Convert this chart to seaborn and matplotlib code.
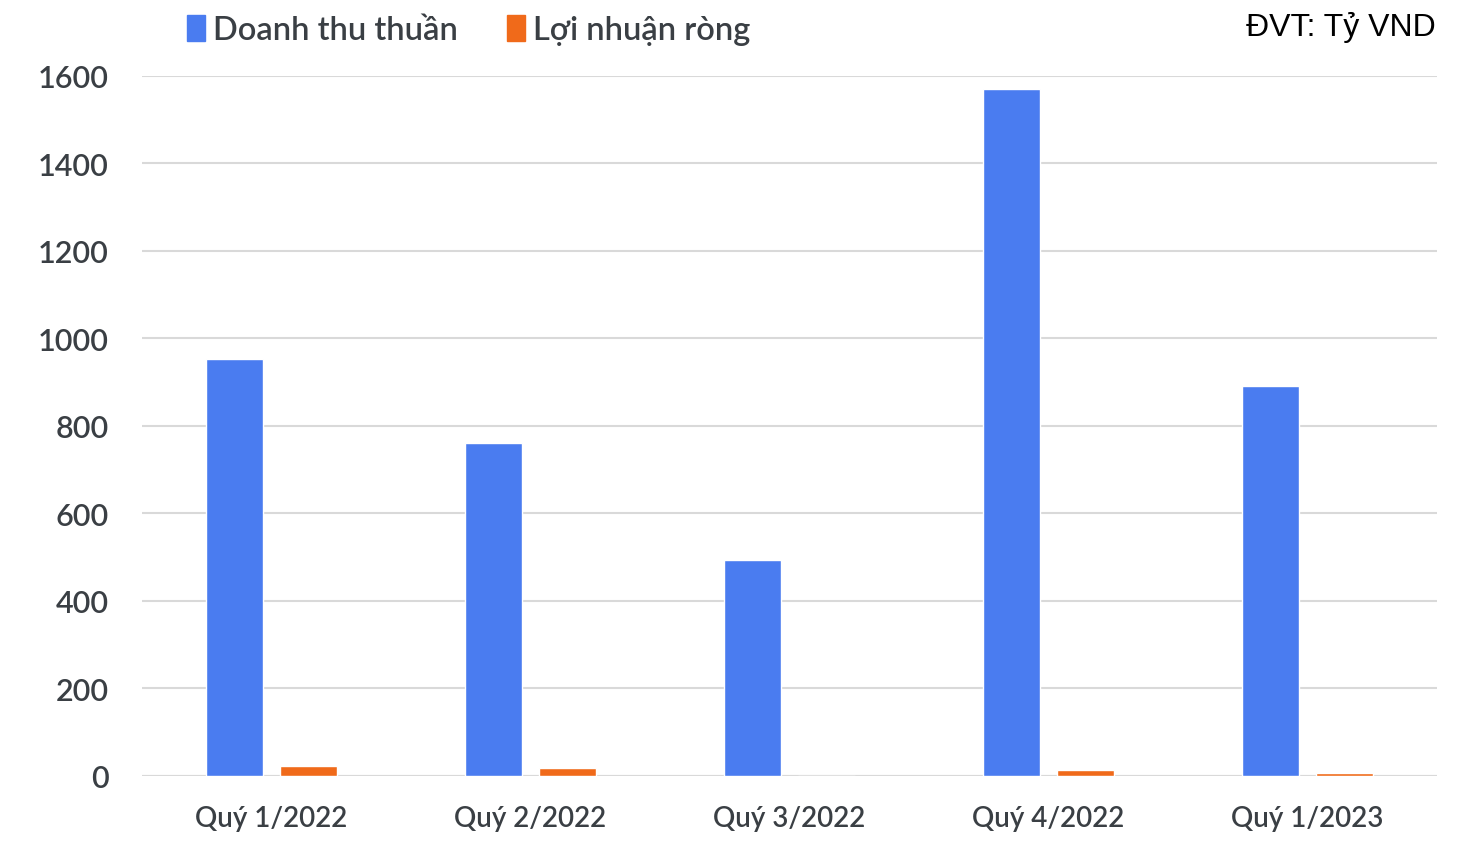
import matplotlib
matplotlib.use("Agg")
import matplotlib.pyplot as plt
import seaborn as sns
import pandas as pd
from matplotlib.patches import Patch

categories = ["Quý 1/2022", "Quý 2/2022", "Quý 3/2022", "Quý 4/2022", "Quý 1/2023"]
doanh_thu = [953, 761, 494, 1570, 891]
loi_nhuan = [23, 18, 0, 14, 7]
series = ["Doanh thu thuần", "Lợi nhuận ròng"]
yticks = [0, 200, 400, 600, 800, 1000, 1200, 1400, 1600]

df = pd.DataFrame({
    "cat": categories * 2,
    "val": doanh_thu + loi_nhuan,
    "series": [series[0]] * len(categories) + [series[1]] * len(categories),
})

sns.set_theme(style="white")
plt.rcParams['font.family'] = ['Lato', 'DejaVu Sans']

colors = {series[0]: "#4a7cf0", series[1]: "#f06a1a"}
text_color = "#3a3f44"

fig = plt.figure(figsize=(14.76, 8.45), dpi=100)
ax = fig.add_axes([0.0962, 0.0805, 0.8774, 0.8284])
sns.barplot(data=df, x="cat", y="val", hue="series", palette=colors,
            width=0.572, gap=0.23, saturation=1, ax=ax, legend=False)

ax.set_xlim(-0.5, 4.5)
ax.set_ylim(0, 1600)
ax.set_yticks(yticks)
ax.set_yticklabels([str(t) for t in yticks])
ax.yaxis.grid(True, color="#d9d9d9", linewidth=1.5)
ax.set_axisbelow(True)
for s in ax.spines.values():
    s.set_visible(False)
ax.axhline(0, color="#d9d9d9", linewidth=1.5, zorder=0)
ax.set_xlabel("")
ax.set_ylabel("")
ax.tick_params(axis="y", labelsize=22, colors=text_color, length=0, pad=24)
ax.tick_params(axis="x", labelsize=20, colors=text_color, length=0, pad=21)
for lab in ax.get_xticklabels() + ax.get_yticklabels():
    lab.set_fontweight("semibold")

handles = [Patch(facecolor=colors[s], edgecolor=colors[s]) for s in series]
leg = fig.legend(handles, series, loc="center left", bbox_to_anchor=(0.107, 0.963),
                 ncol=2, frameon=False, fontsize=23.5, handlelength=0.55, handleheight=0.85,
                 handletextpad=0.25, columnspacing=1.5, labelcolor=text_color)
for t in leg.get_texts():
    t.set_fontweight("semibold")

fig.text(0.973, 0.968, "ĐVT: Tỷ VND", ha="right", va="center", fontsize=23,
         family=["Liberation Sans", "DejaVu Sans"], color="black")

fig.savefig("out.png", dpi=100, facecolor="white")
